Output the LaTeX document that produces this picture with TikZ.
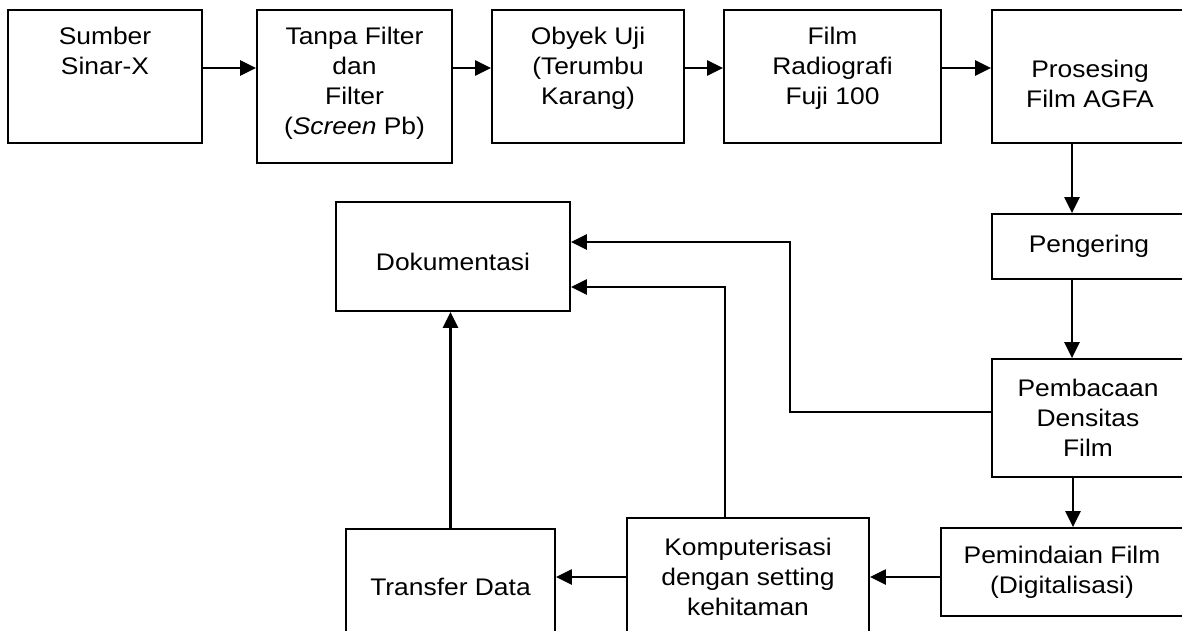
\documentclass[tikz,border=0pt]{standalone}
\usepackage{fontspec}
\setmainfont[FakeStretch=1.1]{Liberation Sans}
\usetikzlibrary{arrows.meta}

\begin{document}
\begin{tikzpicture}[x=1pt,y=-1pt,
    box/.style={draw,line width=1.8pt,inner sep=0pt,align=center,font=\fontsize{24}{30}\selectfont},
    txt/.style={inner sep=0pt,align=center,anchor=north,font=\fontsize{24}{30}\selectfont},
    arr/.style={line width=2.4pt,-{Triangle[length=16pt,width=15pt]}}]
  \useasboundingbox (0,0) rectangle (1182,630);
  \clip (0,0) rectangle (1182,630);

  \node[box,minimum width=194pt,minimum height=133pt,
        label={[txt,yshift=-18pt]north:Sumber\\Sinar-X}] (sumber) at (105,76.5) {};
  \node[box,minimum width=195pt,minimum height=153pt,
        label={[txt,yshift=-18pt]north:Tanpa Filter\\dan\\Filter\\(\textit{Screen} Pb)}] (tanpa) at (354.5,86.5) {};
  \node[box,minimum width=192pt,minimum height=133pt,
        label={[txt,yshift=-18pt]north:Obyek Uji\\(Terumbu\\Karang)}] (obyek) at (588,76.5) {};
  \node[box,minimum width=217pt,minimum height=133pt,
        label={[txt,yshift=-18pt]north:Film\\Radiografi\\Fuji 100}] (film) at (832.5,76.5) {};
  \node[box,minimum width=196pt,minimum height=133pt,
        label={[txt,yshift=-51pt]north:Prosesing\\Film AGFA}] (prosesing) at (1090,76.5) {};

  \node[box,minimum width=194pt,minimum height=65pt] (pengering) at (1089,246.5) {Pengering};
  \node[box,minimum width=192pt,minimum height=118pt] (pembacaan) at (1088,418) {Pembacaan\\Densitas\\Film};
  \node[box,minimum width=242pt,minimum height=88pt] (pemindaian) at (1062,572) {Pemindaian Film\\(Digitalisasi)};
  \node[box,minimum width=242pt,minimum height=118pt] (komputer) at (748,577) {Komputerisasi\\dengan setting\\kehitaman};
  \node[box,minimum width=209pt,minimum height=116pt] (transfer) at (450.5,587) {Transfer Data};
  \node[box,minimum width=234pt,minimum height=109pt,text height=28pt] (dokumen) at (453,256.5) {Dokumentasi};

  \draw[arr] ([yshift=8.5pt]sumber.east) -- ([yshift=8.5pt]sumber.east -| tanpa.west);
  \draw[arr] ([yshift=8.5pt]obyek.west -| tanpa.east) -- ([yshift=8.5pt]obyek.west);
  \draw[arr] ([yshift=8.5pt]obyek.east) -- ([yshift=8.5pt]film.west);
  \draw[arr] ([yshift=8.5pt]film.east) -- ([yshift=8.5pt]prosesing.west);

  \draw[arr] ([xshift=-18pt]prosesing.south) -- ([xshift=-18pt]prosesing.south |- pengering.north);
  \draw[arr] ([xshift=-17pt]pengering.south) -- ([xshift=-17pt]pengering.south |- pembacaan.north);
  \draw[arr] ([xshift=-15pt]pembacaan.south) -- ([xshift=-15pt]pembacaan.south |- pemindaian.north);

  \draw[arr] (pemindaian.west |- komputer.east) -- (komputer.east);
  \draw[arr] (komputer.west) -- (komputer.west -| transfer.east);
  \draw[arr] (transfer.north) -- (transfer.north |- dokumen.south);

  \draw[arr] ([xshift=-23pt]komputer.north) |- ([yshift=-30.5pt]dokumen.east);
  \draw[arr] ([yshift=6pt]pembacaan.west) -- ++(-201,0) |- ([yshift=14.5pt]dokumen.east);
\end{tikzpicture}
\end{document}
